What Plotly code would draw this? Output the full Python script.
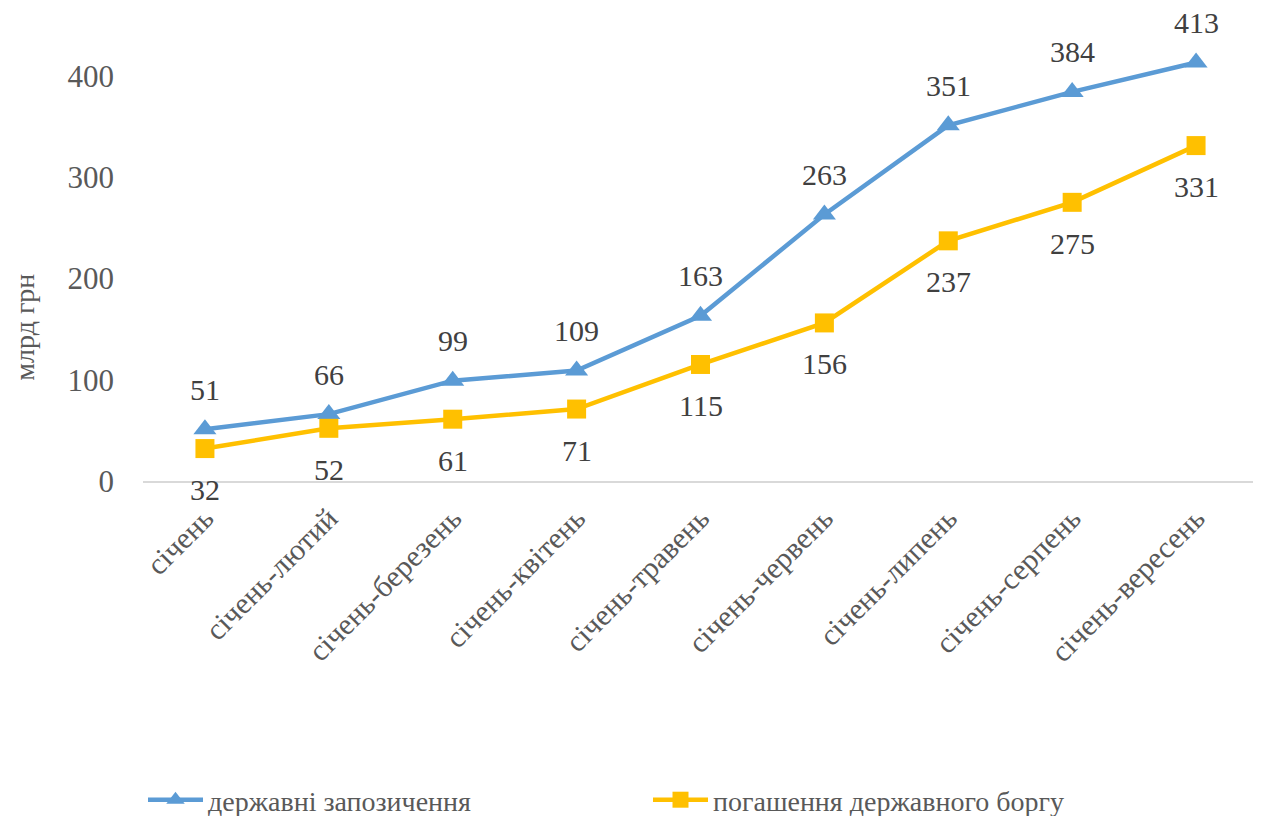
import plotly.graph_objects as go

categories = ["січень", "січень-лютий", "січень-березень", "січень-квітень", "січень-травень",
              "січень-червень", "січень-липень", "січень-серпень", "січень-вересень"]
borrowing = [51, 66, 99, 109, 163, 263, 351, 384, 413]
repayment = [32, 52, 61, 71, 115, 156, 237, 275, 331]
y_ticks = [0, 100, 200, 300, 400]

FONT = "Liberation Serif, DejaVu Serif, Times New Roman, serif"
BLUE = "#5B9BD5"
GOLD = "#FFC000"

fig = go.Figure()
fig.add_trace(go.Scatter(
    x=categories, y=borrowing, name="державні запозичення",
    mode="lines+markers",
    line=dict(color=BLUE, width=4.5),
    marker=dict(symbol="triangle-up", size=20, color=BLUE),
))
fig.add_trace(go.Scatter(
    x=categories, y=repayment, name="погашення державного боргу",
    mode="lines+markers",
    line=dict(color=GOLD, width=4.5),
    marker=dict(symbol="square", size=19, color=GOLD),
))

annotations = []
for c, v in zip(categories, borrowing):
    annotations.append(dict(x=c, y=v, text=str(v), showarrow=False, yshift=40,
                            font=dict(family=FONT, size=30, color="#404040")))
for c, v in zip(categories, repayment):
    annotations.append(dict(x=c, y=v, text=str(v), showarrow=False, yshift=-41,
                            font=dict(family=FONT, size=30, color="#404040")))
annotations.append(dict(text="млрд грн", xref="paper", yref="paper", x=-0.106, y=0.338,
                        textangle=-90, showarrow=False, xanchor="center", yanchor="middle",
                        font=dict(family=FONT, size=28, color="#595959")))

fig.update_layout(
    width=1261, height=816,
    margin=dict(l=135, r=11, t=17, b=343, autoexpand=False),
    paper_bgcolor="white", plot_bgcolor="white",
    font=dict(family=FONT, size=24, color="#595959"),
    showlegend=True,
    annotations=annotations,
    legend=dict(orientation="h", x=0.0, xref="paper", y=24 / 816, yref="container",
                yanchor="middle", xanchor="left",
                font=dict(family=FONT, size=28, color="#595959"),
                entrywidth=435, entrywidthmode="pixels", itemwidth=55),
    xaxis=dict(showgrid=False, showline=True, linecolor="#D9D9D9", linewidth=1.5,
               tickangle=-45, tickfont=dict(family=FONT, size=30, color="#595959"),
               ticks="", range=[-0.5, 8.5], automargin=False, ticklabelstandoff=6),
    yaxis=dict(showgrid=False, zeroline=False, range=[0, 450], tickvals=y_ticks,
               tickfont=dict(family=FONT, size=31, color="#595959"), ticks="",
               ticklabelstandoff=28, automargin=False),
)

fig.write_html("out.html")
